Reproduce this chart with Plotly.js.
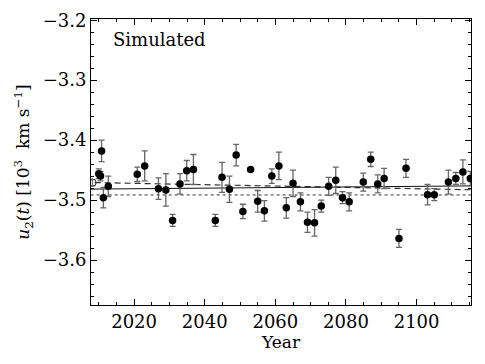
<!DOCTYPE html>
<html>
<head>
<meta charset="utf-8">
<script src="https://cdn.plot.ly/plotly-3.0.1.min.js"></script>
<style>
  html, body { margin: 0; padding: 0; background: #fff; }
  #chart { width: 485px; height: 364px; }
</style>
</head>
<body>
<div id="chart"></div>
<script>
// Measured points (filled markers)
const years = [2010, 2010.5, 2010.8, 2011.3, 2012.7, 2020.9, 2023, 2026.9, 2029, 2030.9,
  2033, 2034.9, 2036.8, 2043, 2044.9, 2047, 2048.9, 2050.8, 2053, 2055,
  2056.9, 2059, 2061, 2063.1, 2065, 2067.1, 2069.1, 2071.1, 2073, 2075.1,
  2077.1, 2079, 2080.9, 2084.9, 2087, 2089, 2090.8, 2095, 2097, 2103.1,
  2105, 2109, 2111.1, 2113.1, 2115.2];
const u2 = [-3.456, -3.460, -3.418, -3.496, -3.477, -3.457, -3.443, -3.481, -3.483, -3.534,
  -3.473, -3.451, -3.449, -3.534, -3.462, -3.482, -3.425, -3.519, -3.449, -3.502,
  -3.518, -3.460, -3.443, -3.513, -3.472, -3.503, -3.537, -3.538, -3.510, -3.477,
  -3.467, -3.496, -3.503, -3.470, -3.432, -3.473, -3.464, -3.564, -3.447, -3.491,
  -3.491, -3.470, -3.464, -3.453, -3.464];
const u2Err = [0.008, 0.008, 0.018, 0.017, 0.017, 0.012, 0.025, 0.018, 0.027, 0.010,
  0.017, 0.017, 0.025, 0.010, 0.025, 0.022, 0.018, 0.012, 0.002, 0.018,
  0.017, 0.012, 0.023, 0.017, 0.022, 0.015, 0.017, 0.022, 0.010, 0.015,
  0.022, 0.010, 0.015, 0.015, 0.012, 0.015, 0.017, 0.015, 0.015, 0.017,
  0.010, 0.020, 0.010, 0.020, 0.012];

// Reference point (open marker)
const refYear = [2008.2];
const refU2 = [-3.471];
const refErr = [0.005];

// Fit lines
const fitYears = [2006, 2117];
const solidFit = [-3.4818, -3.4763];
const dashedFit = [-3.4705, -3.4830];
const dottedFit = [-3.4915, -3.4915];

const serif = "'DejaVu Serif', serif";

const traces = [
  { x: fitYears, y: dottedFit, mode: 'lines', line: { color: '#333', width: 1, dash: 'dot' }, hoverinfo: 'skip' },
  { x: fitYears, y: dashedFit, mode: 'lines', line: { color: '#333', width: 1.2, dash: '6px,4px' }, hoverinfo: 'skip' },
  { x: fitYears, y: solidFit, mode: 'lines', line: { color: '#111', width: 1 }, hoverinfo: 'skip' },
  {
    x: years, y: u2, mode: 'markers',
    marker: { color: '#000', size: 7.5 },
    error_y: { type: 'data', array: u2Err, visible: true, color: '#666', thickness: 1.3, width: 3 }
  },
  {
    x: refYear, y: refU2, mode: 'markers',
    marker: { color: '#333', size: 7.5, symbol: 'circle-open', line: { width: 1 } },
    error_y: { type: 'data', array: refErr, visible: true, color: '#666', thickness: 1, width: 3 }
  }
];

const layout = {
  width: 485, height: 364,
  margin: { l: 90.5, r: 14, t: 19, b: 59 },
  paper_bgcolor: '#fff', plot_bgcolor: '#fff',
  showlegend: false,
  font: { family: serif, size: 17, color: '#000' },
  xaxis: {
    range: [2007.8, 2115.4],
    tick0: 2020, dtick: 20,
    ticks: 'inside', ticklen: 6, tickwidth: 1, tickcolor: '#000',
    minor: { dtick: 5, ticks: 'inside', ticklen: 3, tickcolor: '#000' },
    showline: true, linecolor: '#000', linewidth: 1, mirror: 'allticks',
    showgrid: false, zeroline: false,
    title: { text: 'Year', font: { family: serif, size: 17 }, standoff: 3 },
    tickfont: { family: serif, size: 18 }
  },
  yaxis: {
    range: [-3.675, -3.198],
    tick0: -3.2, dtick: 0.1, tickformat: '.1f',
    ticks: 'inside', ticklen: 6, tickwidth: 1, tickcolor: '#000',
    minor: { dtick: 0.02, ticks: 'inside', ticklen: 3, tickcolor: '#000' },
    showline: true, linecolor: '#000', linewidth: 1, mirror: 'allticks',
    showgrid: false, zeroline: false,
    title: { text: '<i>u</i><sub>2</sub>(<i>t</i>) [10<sup>3</sup>  km s<sup>−1</sup>]', font: { family: serif, size: 17 }, standoff: 8 },
    tickfont: { family: serif, size: 18 }
  },
  annotations: [{
    text: 'Simulated', xref: 'paper', yref: 'paper', x: 0.052, y: 0.93,
    xanchor: 'left', yanchor: 'middle', showarrow: false,
    font: { family: serif, size: 18, color: '#000' }
  }]
};

Plotly.newPlot('chart', traces, layout, { staticPlot: true });
</script>
</body>
</html>
